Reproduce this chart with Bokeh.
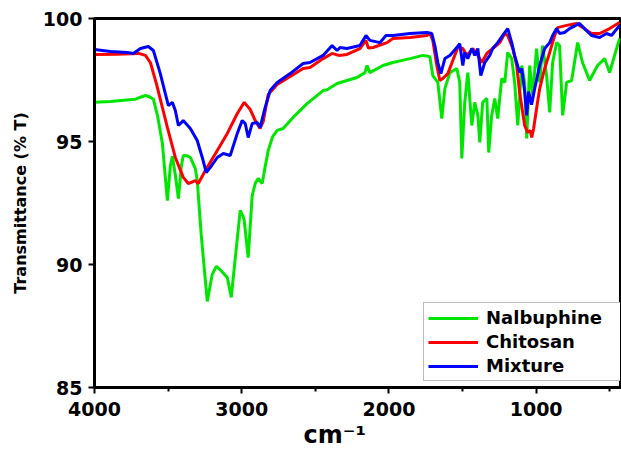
from bokeh.plotting import figure
from bokeh.models import Range1d, FixedTicker, Legend, LegendItem, Title
from bokeh.embed import file_html
from bokeh.resources import INLINE

# ---- data (wavenumber cm-1, transmittance %T) ----
nal_wn = [4000, 3890, 3800, 3720, 3688, 3654, 3620, 3600, 3570, 3539, 3505, 3485, 3471, 3450,
          3430, 3410, 3397, 3370, 3349, 3315, 3302, 3275, 3234, 3200, 3173, 3140, 3098, 3071,
          3045, 3010, 2990, 2983, 2956, 2929, 2908, 2888, 2861, 2840, 2820, 2790, 2759, 2719,
          2651, 2556, 2447, 2420, 2352, 2285, 2217, 2163, 2149, 2129, 2041, 1973, 1857, 1769,
          1722, 1702, 1668, 1641, 1620, 1586, 1539, 1519, 1505, 1485, 1464, 1451, 1437, 1417,
          1396, 1383, 1363, 1335, 1322, 1302, 1281, 1261, 1234, 1213, 1193, 1166, 1146, 1125,
          1098, 1078, 1064, 1044, 1024, 997, 976, 956, 929, 908, 888, 861, 841, 820, 793, 759,
          718, 685, 637, 583, 535, 501, 467, 433]
nal_t = [96.60, 96.63, 96.68, 96.72, 96.80, 96.87, 96.80, 96.72, 96.00, 94.92, 92.60, 94.00,
         94.40, 93.60, 92.68, 94.00, 94.43, 94.42, 94.35, 93.90, 93.41, 91.20, 88.50, 89.60,
         89.92, 89.75, 89.47, 88.66, 90.20, 92.20, 91.95, 91.79, 90.28, 92.80, 93.30, 93.50,
         93.29, 94.00, 94.63, 95.20, 95.45, 95.53, 95.98, 96.54, 97.07, 97.10, 97.36, 97.48,
         97.60, 97.80, 98.09, 97.80, 98.09, 98.21, 98.37, 98.50, 98.45, 97.68, 97.40, 95.93,
         97.15, 97.80, 97.97, 97.40, 94.31, 96.59, 97.80, 96.75, 95.65, 96.59, 96.06, 94.96,
         96.59, 96.75, 94.55, 96.06, 96.75, 95.93, 97.56, 97.40, 98.62, 98.37, 97.40, 95.65,
         98.09, 97.40, 95.12, 98.09, 96.87, 98.78, 97.40, 98.90, 97.68, 96.18, 98.21, 99.02,
         98.90, 96.06, 97.40, 97.48, 99.02, 98.21, 97.48, 98.09, 98.37, 97.80, 98.50, 99.19]

chi_wn = [4000, 3850, 3700, 3654, 3620, 3580, 3505, 3451, 3397, 3363, 3315, 3295, 3247, 3166,
          3098, 3030, 2983, 2942, 2908, 2875, 2854, 2820, 2759, 2671, 2583, 2536, 2447, 2386,
          2340, 2285, 2197, 2156, 2140, 2108, 2013, 1973, 1857, 1742, 1722, 1702, 1675, 1654,
          1634, 1600, 1566, 1532, 1498, 1471, 1430, 1396, 1369, 1335, 1295, 1247, 1213, 1193,
          1159, 1132, 1112, 1078, 1058, 1040, 1030, 1017, 997, 976, 942, 908, 874, 854, 793,
          725, 685, 624, 569, 501, 433]
chi_t = [98.54, 98.55, 98.58, 98.50, 98.20, 97.36, 95.57, 94.35, 93.54, 93.29, 93.41, 93.29,
         93.82, 94.63, 95.33, 96.14, 96.59, 96.30, 95.85, 95.53, 95.81, 96.91, 97.32, 97.64,
         97.97, 98.01, 98.37, 98.58, 98.50, 98.54, 98.78, 99.11, 98.80, 98.82, 99.02, 99.19,
         99.23, 99.31, 99.39, 99.11, 98.09, 97.48, 97.56, 97.76, 98.29, 98.82, 98.78, 98.50,
         98.78, 98.50, 98.21, 98.58, 98.78, 99.02, 99.39, 99.31, 98.78, 98.09, 96.99, 95.65,
         95.37, 95.45, 95.16, 95.53, 96.34, 97.15, 97.97, 98.62, 99.31, 99.63, 99.72, 99.80,
         99.63, 99.39, 99.39, 99.59, 99.84]

mix_wn = [4000, 3892, 3776, 3736, 3688, 3634, 3600, 3553, 3519, 3498, 3471, 3451, 3430, 3397,
          3349, 3302, 3268, 3241, 3214, 3166, 3125, 3078, 3030, 2997, 2976, 2956, 2929, 2895,
          2875, 2841, 2807, 2759, 2671, 2583, 2536, 2447, 2386, 2352, 2332, 2285, 2197, 2156,
          2129, 2061, 2020, 1973, 1857, 1742, 1709, 1688, 1668, 1647, 1620, 1586, 1539, 1519,
          1498, 1485, 1464, 1437, 1417, 1396, 1376, 1349, 1315, 1295, 1261, 1227, 1193, 1166,
          1146, 1112, 1098, 1078, 1064, 1051, 1031, 1010, 976, 942, 908, 888, 861, 841, 807,
          773, 705, 671, 624, 569, 522, 488, 433]
mix_t = [98.74, 98.66, 98.62, 98.58, 98.78, 98.86, 98.70, 97.76, 96.95, 96.46, 96.59, 96.26,
         95.65, 95.85, 95.53, 95.04, 94.35, 93.74, 93.94, 94.35, 94.51, 94.43, 95.33, 95.85,
         95.73, 95.16, 95.73, 95.77, 95.57, 96.38, 97.07, 97.40, 97.76, 98.17, 98.21, 98.50,
         98.90, 98.70, 98.82, 98.78, 98.90, 99.31, 99.11, 99.02, 99.31, 99.31, 99.39, 99.43,
         99.39, 98.90, 98.21, 97.76, 98.37, 98.50, 98.82, 98.98, 98.09, 98.62, 98.37, 98.78,
         98.50, 98.78, 97.68, 98.21, 98.50, 98.78, 99.02, 99.31, 99.59, 99.02, 98.50, 97.80,
         97.97, 97.03, 96.06, 97.03, 96.50, 97.15, 98.09, 98.78, 99.02, 99.31, 99.59, 99.39,
         99.43, 99.59, 99.80, 99.59, 99.31, 99.23, 99.39, 99.31, 99.72]

series_names = ["Nalbuphine", "Chitosan", "Mixture"]
series_colors = ["#00e600", "#ff0000", "#0000ff"]
x_major = [4000, 3000, 2000, 1000]
x_minor = [3500, 2500, 1500, 500]
y_major = [85, 90, 95, 100]
x_title = "cm\u207b\u00b9"
y_title = "Transmittance (% T)"

FONT = "DejaVu Sans"

p = figure(width=621, height=456, output_backend="svg", toolbar_location=None,
           x_range=Range1d(4000, 427), y_range=Range1d(85, 100),
           min_border_left=94, min_border_right=1, min_border_top=18, min_border_bottom=69)
p.grid.visible = False
p.outline_line_color = "black"
p.outline_line_width = 3
p.background_fill_color = "white"
p.border_fill_color = "white"

r_n = p.line(nal_wn, nal_t, line_color=series_colors[0], line_width=3)
r_c = p.line(chi_wn, chi_t, line_color=series_colors[1], line_width=3)
r_m = p.line(mix_wn, mix_t, line_color=series_colors[2], line_width=3)

for ax in (p.xaxis[0], p.yaxis[0]):
    ax.axis_line_width = 3
    ax.axis_line_color = "black"
    ax.major_tick_line_width = 2
    ax.major_tick_line_color = "black"
    ax.major_tick_out = 6
    ax.major_tick_in = 0
    ax.major_label_text_font = FONT
    ax.major_label_text_font_style = "bold"
    ax.major_label_text_font_size = "19px"
    ax.major_label_text_color = "black"

p.xaxis.ticker = FixedTicker(ticks=x_major, minor_ticks=x_minor)
p.xaxis.minor_tick_line_width = 2
p.xaxis.minor_tick_line_color = "black"
p.xaxis.minor_tick_out = 4
p.xaxis.minor_tick_in = 0
p.xaxis.major_label_standoff = 8

p.yaxis.ticker = FixedTicker(ticks=y_major)
p.yaxis.minor_tick_line_color = None
p.yaxis.major_label_standoff = 6
p.yaxis.axis_label = y_title
p.yaxis.axis_label_text_font = FONT
p.yaxis.axis_label_text_font_style = "bold"
p.yaxis.axis_label_text_font_size = "16px"
p.yaxis.axis_label_text_color = "black"
p.yaxis.axis_label_standoff = 10

# x-axis title as a below-title, positioned by offset from the frame's left edge
xt = Title(text=x_title, align="left", offset=209, standoff=0,
           text_font=FONT, text_font_style="bold", text_font_size="24px",
           text_color="black")
p.add_layout(xt, "below")

legend = Legend(items=[LegendItem(label=series_names[0], renderers=[r_n]),
                       LegendItem(label=series_names[1], renderers=[r_c]),
                       LegendItem(label=series_names[2], renderers=[r_m])],
                location=(329, 6))
legend.label_text_font = FONT
legend.label_text_font_style = "bold"
legend.label_text_font_size = "18px"
legend.label_text_color = "black"
legend.padding = 4
legend.spacing = 3
legend.glyph_width = 50
legend.glyph_height = 20
legend.label_height = 20
legend.label_standoff = 8
legend.label_width = 131
legend.margin = 0
legend.border_line_color = "#7a7a7a"
legend.border_line_width = 1.5
legend.background_fill_color = "white"
legend.background_fill_alpha = 1
p.add_layout(legend, "center")

open("out.html", "w").write(file_html(p, INLINE))
